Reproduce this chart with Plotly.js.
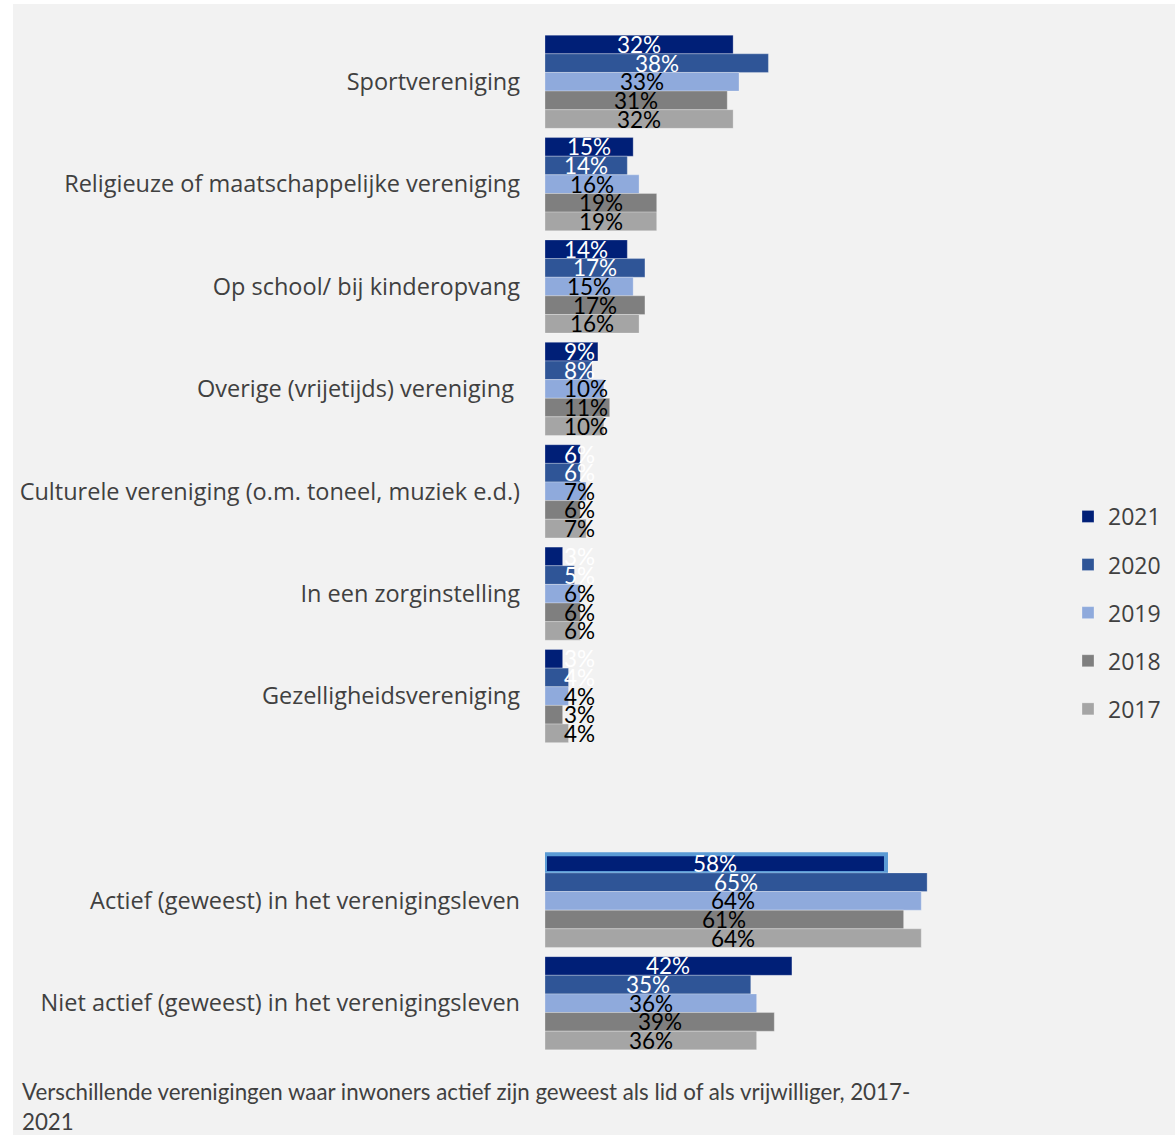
<!DOCTYPE html>
<html>
<head>
<meta charset="utf-8">
<script src="https://cdn.plot.ly/plotly-3.0.1.min.js"></script>
<style>
  html, body { margin: 0; padding: 0; background: #ffffff; }
  #wrap { position: absolute; left: 13px; top: 4px; width: 1162px; height: 1131px; background: #f2f2f2; }
</style>
</head>
<body>
<div id="wrap"><div id="chart"></div></div>
<script>
const categories = [
  "Sportvereniging",
  "Religieuze of maatschappelijke vereniging",
  "Op school/ bij kinderopvang",
  "Overige (vrijetijds) vereniging\u00a0",
  "Culturele vereniging (o.m. toneel, muziek e.d.)",
  "In een zorginstelling",
  "Gezelligheidsvereniging",
  "\u00a0",
  "Actief (geweest) in het verenigingsleven",
  "Niet actief (geweest) in het verenigingsleven"
];
const years = ["2021", "2020", "2019", "2018", "2017"];
const v2021 = [32, 15, 14, 9, 6, 3, 3, null, 58, 42];
const v2020 = [38, 14, 17, 8, 6, 5, 4, null, 65, 35];
const v2019 = [33, 16, 15, 10, 7, 6, 4, null, 64, 36];
const v2018 = [31, 19, 17, 11, 6, 6, 3, null, 61, 39];
const v2017 = [32, 19, 16, 10, 7, 6, 4, null, 64, 36];
const captionLines = [
  "Verschillende verenigingen waar inwoners actief zijn geweest als lid of als vrijwilliger, 2017-",
  "2021"
];

const series = [v2021, v2020, v2019, v2018, v2017];
const colors = ["#001f77", "#2f5597", "#8faadc", "#7f7f7f", "#a5a5a5"];
const labelColors = ["#ffffff", "#ffffff", "#000000", "#000000", "#000000"];

const W = 1162, H = 1131;
const M = { l: 532, r: 115, t: 26, b: 80 };
const plotW = W - M.l - M.r, plotH = H - M.t - M.b;

const bargap = 0.09;
const nTr = series.length;
const barW = (1 - bargap) / nTr;

const traces = series.map((vals, i) => {
  const lw = vals.map((v, j) => (i === 0 && j === 8) ? 4 : 0.6);
  const lc = vals.map((v, j) => (i === 0 && j === 8) ? "#5b9bd5" : "rgba(255,255,255,0.45)");
  return {
    type: "bar",
    orientation: "h",
    name: years[i],
    y: categories,
    x: vals,
    marker: { color: colors[i], line: { width: lw, color: lc } },
    legendgroup: "g" + i,
    hoverinfo: "x+name"
  };
});

// data labels, placed via axis scales
const annotations = [];
series.forEach((vals, i) => {
  vals.forEach((v, j) => {
    if (v === null) return;
    const yPos = j + (i - (nTr - 1) / 2) * barW;
    const small = v < 13;
    annotations.push({
      xref: "x", yref: "y",
      x: small ? 3.0 : v / 2,
      y: yPos,
      text: v + "%",
      showarrow: false,
      xanchor: small ? "left" : "center",
      yanchor: "middle",
      borderpad: 0,
      font: { family: "Lato, 'Open Sans', sans-serif", size: 22.5, color: labelColors[i] }
    });
  });
});

captionLines.forEach((t, k) => {
  const yPage = 1087 + k * 30;
  annotations.push({
    xref: "paper", yref: "paper",
    x: (7 - M.l) / plotW,
    y: (H - M.b - yPage) / plotH,
    xanchor: "left", yanchor: "middle",
    text: t, showarrow: false, align: "left",
    font: { family: "Lato, 'Open Sans', sans-serif", size: 22.3, color: "#404040" }
  });
});

const layout = {
  width: W,
  height: H,
  paper_bgcolor: "#f2f2f2",
  plot_bgcolor: "#f2f2f2",
  margin: { l: M.l, r: M.r, t: M.t, b: M.b, pad: 0 },
  barmode: "group",
  bargap: bargap,
  bargroupgap: 0,
  showlegend: true,
  legend: {
    xref: "container", yref: "container",
    x: 1055 / W, y: 1 - 609 / H,
    xanchor: "left", yanchor: "middle",
    bgcolor: "rgba(0,0,0,0)",
    font: { family: "'Open Sans', sans-serif", size: 23, color: "#404040" },
    tracegroupgap: 15.2,
    traceorder: "grouped"
  },
  xaxis: {
    range: [0, 87.6],
    visible: false,
    showgrid: false,
    zeroline: false,
    fixedrange: true
  },
  yaxis: {
    type: "category",
    categoryorder: "array",
    categoryarray: categories,
    autorange: "reversed",
    showgrid: false,
    zeroline: false,
    showline: false,
    ticks: "",
    ticklabelstandoff: 24,
    tickfont: { family: "'Open Sans', sans-serif", size: 23.5, color: "#404040" },
    fixedrange: true
  },
  annotations: annotations
};

Plotly.newPlot("chart", traces, layout, { displayModeBar: false, staticPlot: true });
</script>
</body>
</html>
